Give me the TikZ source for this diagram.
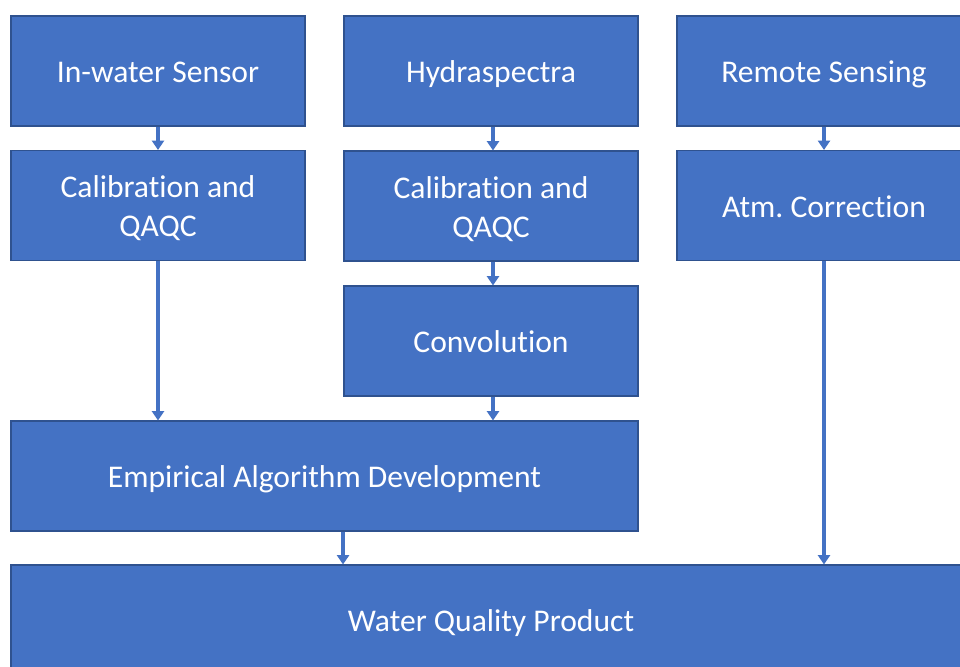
\documentclass[tikz,border=0pt]{standalone}
\usepackage{fontspec}
\setmainfont{Carlito}[Ligatures={NoCommon}]
\usetikzlibrary{arrows.meta}
\definecolor{boxfill}{HTML}{4472C4}
\definecolor{boxline}{HTML}{2F528F}
\newcommand\twolines[2]{\begin{tabular}[t]{@{}c@{}}#1\\#2\end{tabular}}
\tikzset{
  blk/.style={rectangle, fill=boxfill, draw=boxline, line width=0.8pt,
    minimum width=220.5pt, minimum height=82.5pt, inner sep=0pt,
    text height=17.4pt, text depth=0pt,
    text=white, font=\fontsize{23.7pt}{29.25pt}\selectfont},
  blktwo/.style={blk, text height=17.4pt, text depth=29.25pt},
  arr/.style={draw=boxfill, line width=2.6pt, -{Triangle[width=9pt,length=7pt]}}
}
\begin{document}
\begin{tikzpicture}[x=0.75pt,y=-0.75pt]
\useasboundingbox (0,0) rectangle (960,667);
\clip (0,0) rectangle (960,667);
\node[blk] (isens) at (158,71) {In-water Sensor};
\node[blk] (hydra) at (491,71) {Hydraspectra};
\node[blk] (remote) at (824,71) {Remote Sensing};
\node[blktwo] (cal1) at (158,205.5) {\twolines{Calibration and}{QAQC}};
\node[blktwo] (cal2) at (491,206) {\twolines{Calibration and}{QAQC}};
\node[blk] (atm) at (824,205.5) {Atm.\ Correction};
\node[blk] (conv) at (491,341) {Convolution};
\node[blk, minimum width=470.25pt] (emp) at (324.5,476) {Empirical Algorithm Development};
\node[blk, minimum width=720pt] (wqp) at (491,620) {Water Quality Product};
\coordinate (e1) at ([xshift=13.9pt]emp.south);
\coordinate (h1) at ([xshift=1.5pt]hydra.south);
\coordinate (h2) at ([xshift=1.5pt]cal2.south);
\coordinate (h3) at ([xshift=1.5pt]conv.south);
\draw[arr] (isens.south) -- (cal1.north);
\draw[arr] (h1) -- (h1 |- cal2.north);
\draw[arr] (remote.south) -- (atm.north);
\draw[arr] (cal1.south) -- (cal1.south |- emp.north);
\draw[arr] (h2) -- (h2 |- conv.north);
\draw[arr] (h3) -- (h3 |- emp.north);
\draw[arr] (e1) -- (e1 |- wqp.north);
\draw[arr] (atm.south) -- (atm.south |- wqp.north);
\end{tikzpicture}
\end{document}
